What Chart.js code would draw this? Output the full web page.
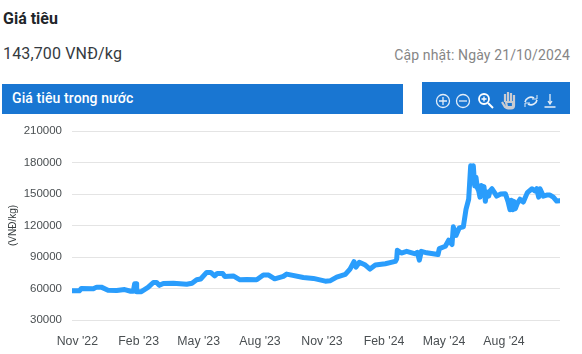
<!DOCTYPE html>
<html>
<head>
<meta charset="utf-8">
<title>Giá tiêu</title>
<script src="https://cdn.jsdelivr.net/npm/chart.js@4"></script>
<style>
body { margin: 0; background: #fff; font-family: Roboto, sans-serif; width: 582px; height: 354px; overflow: hidden; position: relative; }
div, canvas, svg { position: absolute; }
#name { left: 3px; top: 9px; font-size: 16px; font-weight: 700; color: #212529; }
#price { left: 3px; top: 44px; font-size: 16px; letter-spacing: .15px; color: #343a40; }
#updated { right: 12px; top: 47px; font-size: 14px; letter-spacing: .13px; color: #868686; }
#bar { left: 2px; top: 84px; width: 401px; height: 30px; background: #1976d2; color: #fff; font-size: 14px; font-weight: 500; letter-spacing: .1px; line-height: 29px; text-indent: 10px; }
#tools { left: 422px; top: 82px; width: 148px; height: 32px; background: #1976d2; }
#chart { left: 0; top: 0; }
</style>
</head>
<body>
<div id="name">Giá tiêu</div>
<div id="price">143,700 VNĐ/kg</div>
<div id="updated">Cập nhật: Ngày 21/10/2024</div>
<div id="bar">Giá tiêu trong nước</div>
<div id="tools">
<svg width="148" height="32" fill="none" stroke="#e3edf8" stroke-width="1.3">
<circle cx="21" cy="19" r="6.5"/><path d="M17 19h8M21 15v8"/>
<circle cx="41" cy="19" r="6.5"/><path d="M37 19h8"/>
<circle cx="62" cy="17" r="5" stroke-width="1.8" stroke="#fff"/><path d="M66 21l5 5" stroke-width="2" stroke="#fff"/><path d="M59.500 17h5M62 14.500v5" stroke="#fff"/>
<path d="M80 20l3 5c1 1 2 1.500 3 1.500h3c2 0 3-1.500 3-3v-8M83 20v-8M86 19v-9M89 19v-8M92 19v-6M84 20h7v5h-6z" stroke="#c9ccd2" stroke-width="2.200"/>
<path d="M103 20a6 6 0 0 1 9-4M115 18a6 6 0 0 1-9 4" stroke-width="1.600"/><path d="M110 17h5v-4M108 21h-5v4" stroke-width="1"/>
<path d="M128 12v10M126 19l2 3 2-3M122.500 25h11"/>
</svg>
</div>
<canvas id="chart" width="582" height="354"></canvas>
<script>
const days = [0, 10, 11, 14, 32, 37, 44, 54, 67, 79, 88, 92, 94, 96, 97, 104, 114, 122, 127, 131, 137, 152, 172, 180, 187, 193, 202, 208, 214, 218, 226, 229, 242, 252, 262, 277, 287, 295, 304, 317, 322, 347, 362, 380, 387, 397, 410, 417, 423, 426, 431, 440, 447, 455, 470, 485, 487, 488, 494, 502, 515, 518, 521, 524, 532, 549, 551, 560, 565, 570, 572, 576, 581, 587, 591, 595, 598, 600, 602, 604, 606, 608, 610, 612, 614, 616, 618, 620, 622, 625, 627, 630, 634, 637, 643, 650, 654, 657, 659, 661, 663, 665, 668, 672, 677, 683, 690, 694, 697, 700, 702, 707, 712, 717, 722, 727, 732];
const prices = [57800, 57800, 57800, 60000, 59700, 61300, 61300, 58400, 58000, 59000, 57400, 57400, 64500, 64500, 56800, 57000, 61000, 65700, 65700, 63000, 64800, 65000, 64000, 65000, 68300, 69000, 75300, 75300, 72000, 74400, 74400, 71500, 72000, 68300, 68600, 68300, 72800, 72800, 69200, 71500, 73700, 70500, 69600, 67000, 67300, 70800, 73400, 78500, 85500, 80400, 85000, 82300, 78500, 82300, 83600, 85800, 88000, 96400, 93800, 95400, 93000, 94500, 87000, 95400, 94000, 92300, 98000, 100200, 106000, 101800, 118700, 110500, 117800, 118700, 135300, 145000, 176800, 165000, 176800, 157700, 166000, 156000, 153000, 147000, 158000, 150000, 157000, 143000, 152000, 148000, 153000, 155000, 151000, 148000, 150000, 150300, 143000, 135000, 144000, 135000, 143000, 136000, 141000, 145000, 142400, 151300, 155000, 153000, 155000, 147000, 155000, 148000, 149000, 149000, 147000, 143300, 143700];
const tickDays = [8, 100, 190, 282, 375, 468, 558, 648];
const tickLabels = ["Nov '22", "Feb '23", "May '23", "Aug '23", "Nov '23", "Feb '24", "May '24", "Aug '24"];
const priceTicks = [30000, 60000, 90000, 120000, 150000, 180000, 210000];

new Chart(document.getElementById('chart'), {
    type: 'line',
    data: {
        datasets: [{
            data: days.map((d, i) => ({ x: d, y: prices[i] })),
            borderColor: '#2a9dfc',
            borderWidth: 5,
            pointRadius: 0,
            tension: 0,
            borderJoinStyle: 'round',
            borderCapStyle: 'round'
        }]
    },
    options: {
        responsive: false,
        animation: false,
        layout: { padding: { top: 131, right: 22, bottom: 0, left: 0 } },
        plugins: { legend: { display: false }, tooltip: { enabled: false } },
        scales: {
            x: {
                type: 'linear',
                min: 0,
                max: 732,
                grid: { display: false },
                border: { display: false },
                afterBuildTicks: axis => { axis.ticks = tickDays.map(v => ({ value: v })); },
                afterFit: axis => { axis.height = 34; },
                ticks: {
                    autoSkip: false,
                    maxRotation: 0,
                    padding: 6,
                    color: '#4a4f52',
                    font: { family: 'Liberation Sans', size: 12.3 },
                    callback: value => tickLabels[tickDays.indexOf(value)]
                }
            },
            y: {
                min: 30000,
                max: 210000,
                grid: { color: '#e4e4e4', drawTicks: false },
                border: { display: false },
                afterBuildTicks: axis => { axis.ticks = priceTicks.map(v => ({ value: v })); },
                afterFit: axis => { axis.width = 72; },
                title: {
                    display: true,
                    text: '(VNĐ/kg)',
                    color: '#373d3f',
                    font: { family: 'Liberation Sans', size: 10 },
                    padding: { top: 7, bottom: 0 }
                },
                ticks: {
                    padding: 10,
                    color: '#4a4f52',
                    font: { family: 'Liberation Sans', size: 11.5 },
                    callback: value => String(value)
                }
            }
        }
    }
});
</script>
</body>
</html>
